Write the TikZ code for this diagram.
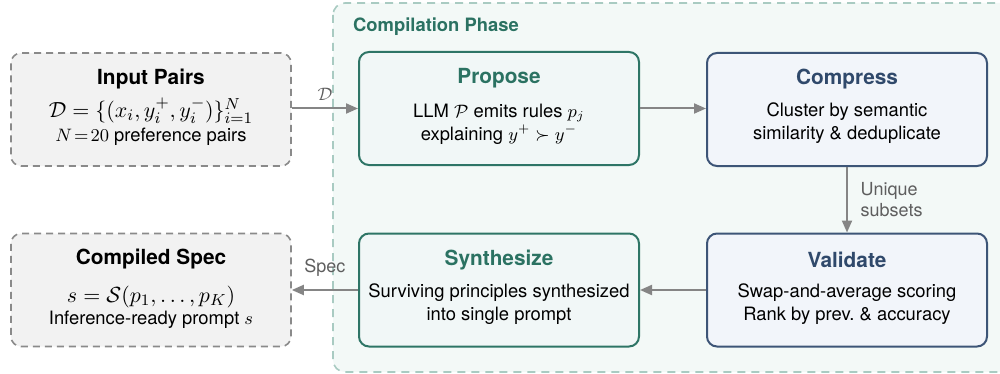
\documentclass[tikz,border=0pt]{standalone}
\usepackage[no-math]{fontspec}
\setmainfont{TeX Gyre Heros}
\usepackage{amsmath,amssymb}
\usetikzlibrary{arrows.meta,positioning}
\definecolor{regfill}{HTML}{F3F9F7}
\definecolor{regline}{HTML}{A9CBC2}
\definecolor{grnline}{HTML}{2E7566}
\definecolor{grntxt}{HTML}{2B7262}
\definecolor{grnfill}{HTML}{F1F7F7}
\definecolor{bluline}{HTML}{3D5577}
\definecolor{blutxt}{HTML}{30496B}
\definecolor{blufill}{HTML}{F2F5FA}
\definecolor{ioline}{HTML}{8A8A8A}
\definecolor{iofill}{HTML}{F2F2F2}
\definecolor{arr}{HTML}{858585}
\definecolor{lbl}{HTML}{5E5E5E}
\tikzset{
  gbox/.style={draw=grnline, line width=1pt, fill=grnfill, rounded corners=5pt, minimum width=140pt, minimum height=56.5pt},
  bbox/.style={draw=bluline, line width=1pt, fill=blufill, rounded corners=5pt, minimum width=140pt, minimum height=56.5pt},
  iobox/.style={draw=ioline, line width=0.8pt, dash pattern=on 3.5pt off 2.5pt, fill=iofill, rounded corners=5pt, minimum width=140pt, minimum height=56.5pt},
  ttl/.style={font=\fontsize{10.4}{12}\selectfont\bfseries},
  body/.style={font=\fontsize{9.2}{11.5}\selectfont, align=center},
  mbig/.style={font=\fontsize{10.8}{12}\selectfont, inner sep=0.5pt},
  tline/.style={font=\fontsize{9.2}{11.5}\selectfont, inner sep=0.5pt},
  flow/.style={draw=arr, line width=1pt, -{Triangle[length=6pt,width=5pt]}},
  elbl/.style={font=\fontsize{9}{10.5}\selectfont, text=lbl, align=left}
}
\begin{document}
\begin{tikzpicture}[x=0.5pt,y=-0.5pt]
\useasboundingbox (0,0) rectangle (1000,374);
% region
\begin{scope}
\clip (0,0) rectangle (1000,374);
\draw[regline, fill=regfill, line width=0.8pt, dash pattern=on 4pt off 3pt, rounded corners=6pt] (333,3) rectangle (1030,372);
\end{scope}
\node[anchor=west, font=\fontsize{9.2}{11}\selectfont\bfseries, text=grntxt] (phase) at (346,27) {Compilation Phase};

% boxes
\node[iobox] (inp) at (151,109.5) {};
\node[ttl] (inpt) at (151,79) {Input Pairs};
\node[mbig] (inpm) at (151,111) {$\mathcal{D}=\{(x_i,y_i^{+},y_i^{-})\}_{i=1}^{N}$};
\node[tline] (inpn) at (151,137) {$N\!=\!20$ preference pairs};

\node[gbox] (prop) at (499,108.5) {};
\node[ttl, text=grntxt] (propt) at (499,78) {Propose};
\node[body] (propb) at (499,124) {LLM $\mathcal{P}$ emits rules $p_j$\\explaining $y^{+}\succ y^{-}$};

\node[bbox] (comp) at (847,109.5) {};
\node[ttl, text=blutxt] (compt) at (847,79) {Compress};
\node[body] (compb) at (847,123) {Cluster by semantic\\similarity \& deduplicate};

\node[bbox] (val) at (847,290) {};
\node[ttl, text=blutxt] (valt) at (847,260) {Validate};
\node[body] (valb) at (847,304) {Swap-and-average scoring\\Rank by prev.\ \& accuracy};

\node[gbox] (syn) at (499,290) {};
\node[ttl, text=grntxt] (synt) at (499,260) {Synthesize};
\node[body] (synb) at (499,304) {Surviving principles synthesized\\into single prompt};

\node[iobox] (out) at (151,290) {};
\node[ttl] (outt) at (151,259) {Compiled Spec};
\node[mbig] (outm) at (151,297) {$s=\mathcal{S}(p_1,\ldots,p_K)$};
\node[tline] (outn) at (151,320) {Inference-ready prompt $s$};

% connectors
\draw[flow] (inp.east |- 0,108.5) -- (prop.west) node[midway, above, text=lbl, font=\fontsize{9}{10}\selectfont] {$\mathcal{D}$};
\draw[flow] (prop.east) -- (comp.west |- prop.east);
\draw[flow] (comp.south) -- (val.north) node[midway, right=3pt, elbl] {Unique\\subsets};
\draw[flow] (val.west) -- (syn.east);
\draw[flow] (syn.west) -- (out.east) node[midway, above=3pt, elbl] {Spec};
\end{tikzpicture}
\end{document}
